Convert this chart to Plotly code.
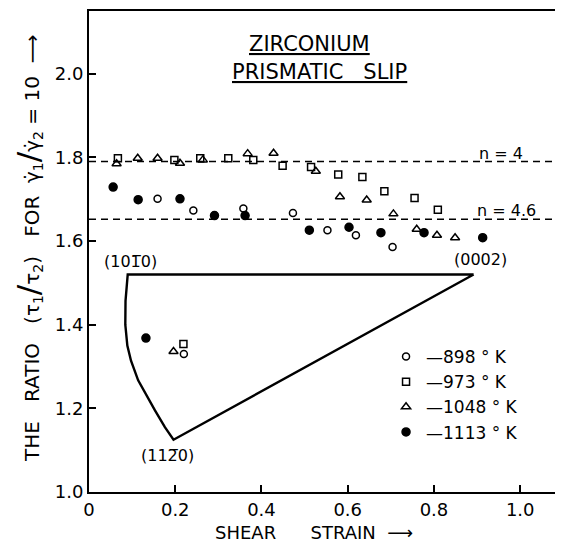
import plotly.graph_objects as go

# ---------------- data ----------------
strain_898 = [0.159, 0.242, 0.358, 0.473, 0.553, 0.619, 0.704, 0.220]
ratio_898 = [1.701, 1.673, 1.678, 1.667, 1.626, 1.614, 1.586, 1.330]

strain_973 = [0.067, 0.198, 0.258, 0.323, 0.381, 0.449, 0.515, 0.578, 0.634, 0.685, 0.755, 0.809, 0.219]
ratio_973 = [1.798, 1.794, 1.798, 1.798, 1.794, 1.780, 1.777, 1.759, 1.753, 1.719, 1.703, 1.675, 1.354]

strain_1048 = [0.064, 0.113, 0.159, 0.211, 0.264, 0.368, 0.428, 0.526, 0.582, 0.644, 0.706, 0.760, 0.807, 0.849, 0.196]
ratio_1048 = [1.785, 1.798, 1.798, 1.786, 1.794, 1.809, 1.810, 1.767, 1.706, 1.698, 1.665, 1.628, 1.614, 1.608, 1.336]

strain_1113 = [0.056, 0.114, 0.211, 0.291, 0.362, 0.511, 0.603, 0.677, 0.777, 0.913, 0.132]
ratio_1113 = [1.729, 1.699, 1.701, 1.661, 1.661, 1.626, 1.633, 1.620, 1.620, 1.608, 1.368]

series_names = ["—898 ° K", "—973 ° K", "—1048 ° K", "—1113 ° K"]

n_labels = ["n = 4", "n = 4.6"]
n_levels = [1.790, 1.652]
n_label_x = [1.012, 1.042]

# stereographic triangle (inset) outline
tri_x = [0.892, 0.0898, 0.0847, 0.0842, 0.0889, 0.0974, 0.114, 0.130, 0.153, 0.176, 0.196, 0.892]
tri_y = [1.520, 1.520, 1.457, 1.400, 1.350, 1.314, 1.267, 1.236, 1.195, 1.155, 1.125, 1.520]
pole_labels = ["(101\u03050)", "(0002)", "(112\u03050)"]
pole_x = [0.097, 0.907, 0.183]
pole_y = [1.552, 1.557, 1.088]

x_ticks = [0, 0.2, 0.4, 0.6, 0.8, 1.0]
x_ticktext = ["0", "0.2", "0.4", "0.6", "0.8", "1.0"]
y_ticks = [1.0, 1.2, 1.4, 1.6, 1.8, 2.0]
y_ticktext = ["1.0", "1.2", "1.4", "1.6", "1.8", "2.0"]

FONT = "DejaVu Sans"
BLACK = "black"

fig = go.Figure()

# reference dashed lines
for lvl in n_levels:
    fig.add_trace(go.Scatter(x=[0, 1.09], y=[lvl, lvl], mode="lines",
                             line=dict(color=BLACK, width=1.4, dash="7px,5px"),
                             showlegend=False, hoverinfo="skip"))

# inset triangle
fig.add_trace(go.Scatter(x=tri_x, y=tri_y, mode="lines",
                         line=dict(color=BLACK, width=2.4),
                         showlegend=False, hoverinfo="skip"))

marker_specs = [
    (strain_898, ratio_898, "circle-open", 7),
    (strain_973, ratio_973, "square-open", 7),
    (strain_1048, ratio_1048, "triangle-up-open", 8),
    (strain_1113, ratio_1113, "circle", 8),
]
for (xs, ys, sym, sz), name in zip(marker_specs, series_names):
    fig.add_trace(go.Scatter(x=xs, y=ys, mode="markers", name=name,
                             marker=dict(symbol=sym, size=sz, color=BLACK,
                                         line=dict(color=BLACK, width=1.5))))

annotations = []
annotations.append(dict(x=0.470, y=0.932, xref="paper", yref="paper",
                        xanchor="center", yanchor="middle",
                        text="<u>ZIRCONIUM</u>", showarrow=False,
                        font=dict(family=FONT, size=21, color=BLACK)))
annotations.append(dict(x=0.490, y=0.874, xref="paper", yref="paper",
                        xanchor="center", yanchor="middle",
                        text="<u>PRISMATIC   SLIP</u>", showarrow=False,
                        font=dict(family=FONT, size=21, color=BLACK)))
for lbl, lvl, lx in zip(n_labels, n_levels, n_label_x):
    annotations.append(dict(x=lx, y=lvl, xref="x", yref="y", text=lbl,
                            showarrow=False, xanchor="right", yanchor="bottom",
                            yshift=-3,
                            font=dict(family=FONT, size=16, color=BLACK)))
for lbl, px, py in zip(pole_labels, pole_x, pole_y):
    annotations.append(dict(x=px, y=py, xref="x", yref="y", text=lbl,
                            showarrow=False, xanchor="center", yanchor="middle",
                            font=dict(family=FONT, size=16, color=BLACK)))
annotations.append(dict(x=(313.5 - 89) / 470, y=(492 - 533) / 483,
                        xref="paper", yref="paper",
                        xanchor="center", yanchor="middle",
                        text="SHEAR      STRAIN  ⟶", showarrow=False,
                        font=dict(family=FONT, size=18, color=BLACK)))
slash = "<span style='font-size:31px'>/</span>"
annotations.append(dict(x=(28 - 89) / 470, y=(492 - 248) / 483,
                        xref="paper", yref="paper",
                        xanchor="center", yanchor="middle",
                        text=("THE   RATIO   (τ<sub>1</sub>" + slash + "τ<sub>2</sub>)   FOR  "
                              "γ\u0307<sub>1</sub>" + slash + "γ\u0307<sub>2</sub> = 10  ⟶"),
                        textangle=-90, showarrow=False,
                        font=dict(family=FONT, size=20, color=BLACK)))

# page body has an 8px default margin: size the figure so that the plot
# lands where the reference has it inside the 563x545 window
fig.update_layout(
    width=555, height=537,
    margin=dict(l=81, r=4, t=1, b=53),
    paper_bgcolor="white", plot_bgcolor="white",
    font=dict(family=FONT, size=18, color=BLACK),
    annotations=annotations,
    showlegend=True,
    legend=dict(x=0.632, y=0.318, xanchor="left", yanchor="top",
                bgcolor="rgba(0,0,0,0)", borderwidth=0,
                font=dict(family=FONT, size=17, color=BLACK),
                itemwidth=30, tracegroupgap=0),
    xaxis=dict(range=[0, 1.09], tickvals=x_ticks, ticktext=x_ticktext,
               ticks="inside", ticklen=7, tickwidth=2, tickcolor=BLACK,
               showline=True, linecolor=BLACK, linewidth=2, mirror=True,
               showgrid=False, zeroline=False,
               tickfont=dict(family=FONT, size=18, color=BLACK)),
    yaxis=dict(range=[1.0, 2.15], tickvals=y_ticks, ticktext=y_ticktext,
               ticks="inside", ticklen=7, tickwidth=2, tickcolor=BLACK,
               showline=True, linecolor=BLACK, linewidth=2, mirror=True,
               showgrid=False, zeroline=False,
               tickfont=dict(family=FONT, size=18, color=BLACK)),
)

fig.write_html("out.html")
